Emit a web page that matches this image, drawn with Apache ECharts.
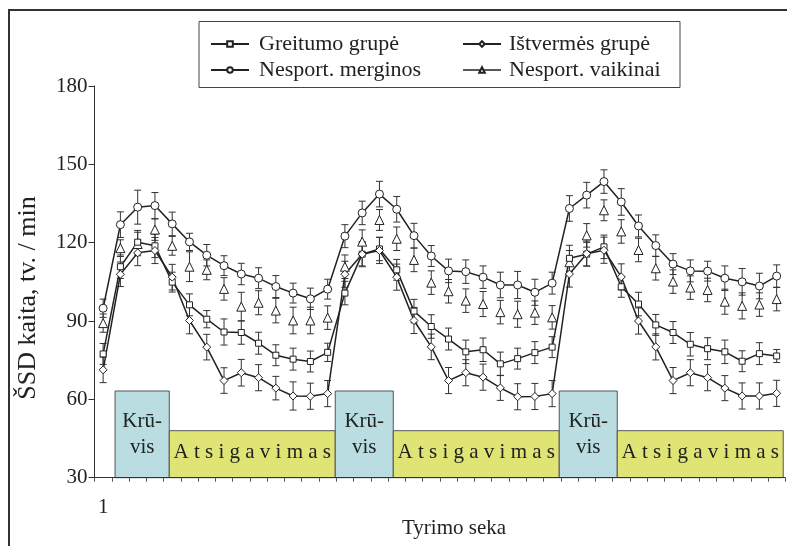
<!DOCTYPE html>
<html>
<head>
<meta charset="utf-8">
<script src="https://cdn.jsdelivr.net/npm/echarts@6/dist/echarts.min.js"></script>
<style>
html,body{margin:0;padding:0;background:#fff;}
#chart{width:787px;height:546px;}
</style>
</head>
<body>
<div id="chart"></div>
<script>
// ---------- DATA ----------
const categories = ['1','2','3','4','5','6','7','8','9','10','11','12','13','14','15','16','17','18','19','20',
  '21','22','23','24','25','26','27','28','29','30','31','32','33','34','35','36','37','38','39','40'];
const yTicks = [30, 60, 90, 120, 150, 180];

const greitumo = [77.4,110.8,120.2,118.8,104.9,96.2,90.7,85.8,85.6,81.5,76.9,75.4,74.5,78.0,
  100.7,115.6,117.6,109.6,93.8,87.9,83.1,78.2,79.0,73.6,75.6,77.9,80.0,
  114.0,115.6,118.4,103.1,96.5,88.5,85.6,81.1,79.4,78.2,74.6,77.5,76.6];
const greitumoErr = [4.0,4.5,4.5,4.5,3.8,4.2,3.3,5.0,4.5,4.2,4.0,4.2,4.0,3.5,
  4.5,4.5,4.5,4.0,4.5,4.5,4.2,4.5,4.5,4.5,4.0,4.2,4.0,
  5.0,4.5,4.5,4.0,4.5,4.0,4.2,4.5,4.2,4.5,4.0,4.2,2.5];

const istvermes = [71.3,107.9,116.1,117.0,106.8,90.2,80.0,67.2,70.2,68.3,64.3,61.3,61.2,62.2,
  107.9,115.6,117.0,106.8,90.2,80.1,67.2,70.2,68.5,64.4,61.0,61.1,62.2,
  108.0,115.8,117.1,106.9,90.0,80.1,67.2,70.2,68.3,64.3,61.3,61.3,62.3];
const istvermesErr = [4.9,4.7,4.9,5.0,4.9,5.1,4.9,4.9,5.1,5.0,4.5,5.4,5.0,5.0,
  5.0,4.8,5.0,5.0,5.0,4.9,5.0,5.0,5.0,4.8,5.0,5.0,5.0,
  5.0,4.8,5.0,5.0,5.0,5.0,5.0,5.0,5.0,4.8,5.0,5.0,5.0];

const merginos = [94.9,126.9,133.6,134.2,127.2,120.3,115.2,111.2,108.0,106.4,103.2,100.7,98.5,102.2,
  122.5,131.4,138.6,132.8,122.7,114.9,109.2,108.9,106.8,103.8,103.8,101.0,104.5,
  133.1,138.2,143.4,135.6,126.4,118.9,111.8,109.2,109.1,106.4,105.0,103.4,107.2];
const merginosErr = [3.5,4.9,6.5,5.0,4.5,3.3,4.1,3.8,4.1,4.0,4.2,3.8,4.1,3.8,
  4.4,4.5,4.9,4.9,4.7,4.0,4.5,4.5,4.3,4.9,5.2,5.0,4.2,
  4.9,4.9,4.5,5.1,4.2,4.1,4.0,4.2,3.8,4.7,5.1,4.9,4.3];

const vaikinai = [89.2,117.9,119.5,125.0,118.8,110.8,109.6,102.3,95.5,97.0,94.0,90.2,90.2,91.3,
  110.8,120.4,128.7,121.5,113.4,104.7,101.4,97.8,96.5,93.4,92.6,93.2,91.4,
  112.5,122.8,132.4,124.3,117.2,110.2,105.1,102.8,101.9,97.4,95.8,96.3,98.4];
const vaikinaiErr = [3.5,3.2,4.5,4.1,3.6,5.7,3.8,4.3,5.5,4.6,4.7,5.1,5.1,4.5,
  4.5,4.5,4.0,4.5,4.5,4.5,4.5,4.5,4.8,4.5,5.0,4.5,4.5,
  4.5,4.5,4.0,4.5,4.5,4.5,4.5,4.5,4.5,4.8,5.0,4.5,4.5];

// Phase annotation boxes (in category units 0..40, y value of box top)
const phaseLabels = ['Krū-\nvis','A t s i g a v i m a s','Krū-\nvis','A t s i g a v i m a s','Krū-\nvis','A t s i g a v i m a s'];
const phaseStart  = [1.19, 4.33, 13.94, 17.30, 26.91, 30.27];
const phaseEnd    = [4.33, 13.94, 17.30, 26.91, 30.27, 39.88];
const phaseTop    = [63.2, 48.0, 63.2, 48.0, 63.2, 48.0];
const phaseKind   = ['load','rec','load','rec','load','rec'];

// ---------- CHART ----------
const FONT = '"Liberation Serif", "Times New Roman", "DejaVu Serif", serif';
const INK = '#222';

function errData(vals, errs){
  return vals.map((v,i)=>[i, v - errs[i], v + errs[i]]);
}
function errSeries(name, vals, errs){
  return {
    type:'custom', name: name + ' err', xAxisIndex:0, yAxisIndex:0, z:1,
    silent:true,
    data: errData(vals, errs),
    encode:{x:0, y:[1,2]},
    renderItem:function(params, api){
      const x = api.value(0);
      const lo = api.coord([x, api.value(1)]);
      const hi = api.coord([x, api.value(2)]);
      const w = 3.5;
      const st = {stroke:'#333', lineWidth:1};
      return {type:'group', children:[
        {type:'line', shape:{x1:lo[0],y1:lo[1],x2:hi[0],y2:hi[1]}, style:st},
        {type:'line', shape:{x1:lo[0]-w,y1:lo[1],x2:lo[0]+w,y2:lo[1]}, style:st},
        {type:'line', shape:{x1:hi[0]-w,y1:hi[1],x2:hi[0]+w,y2:hi[1]}, style:st}
      ]};
    }
  };
}
function lineSeries(name, vals, symbol, size, showLine){
  return {
    type:'line', name:name, data:vals, symbol:symbol, symbolSize:size, z:3,
    showAllSymbol:true,
    itemStyle:{color:'#fff', borderColor:INK, borderWidth:1},
    lineStyle:{color:INK, width: showLine ? 1.5 : 0, opacity: showLine ? 1 : 0},
    emphasis:{disabled:true}
  };
}

const phaseData = phaseStart.map((s,i)=>[s, phaseEnd[i], phaseTop[i]]);

const chart = echarts.init(document.getElementById('chart'), null, {renderer:'canvas'});
const option = {
  backgroundColor:'#fff',
  animation:false,
  textStyle:{fontFamily:FONT},
  grid:{left:94.5, right:1.7, top:86, bottom:68.3, containLabel:false},
  xAxis:[{
    type:'category', data:categories, boundaryGap:true,
    axisLine:{show:true, lineStyle:{color:'#333', width:1}},
    axisTick:{show:true, interval:0, length:4, inside:false, lineStyle:{color:'#555'}},
    axisLabel:{interval:function(i){return i===0;}, margin:19, fontSize:21, color:INK, fontFamily:FONT},
    splitLine:{show:false}
  },{
    type:'value', min:0, max:40, show:false
  }],
  yAxis:{
    type:'value', min:yTicks[0], max:yTicks[yTicks.length-1], interval:30,
    axisLine:{show:true, lineStyle:{color:'#333', width:1}},
    axisTick:{show:true, length:6, lineStyle:{color:'#333'}},
    axisLabel:{fontSize:21, color:INK, margin:7, fontFamily:FONT},
    splitLine:{show:false}
  },
  legend:[{
    orient:'vertical', left:205, top:27, itemWidth:38, itemHeight:7, itemGap:2,
    textStyle:{fontSize:22, color:INK, fontFamily:FONT, lineHeight:24, padding:[0,0,0,5]},
    data:['Greitumo grupė','Nesport. merginos'], selectedMode:false
  },{
    orient:'vertical', left:457, top:27, itemWidth:38, itemHeight:7, itemGap:2,
    textStyle:{fontSize:22, color:INK, fontFamily:FONT, lineHeight:24, padding:[0,0,0,3]},
    data:['Ištvermės grupė',{name:'Nesport. vaikinai', lineStyle:{color:INK, width:1.5, opacity:1}}],
    selectedMode:false
  }],
  graphic:[
    {type:'rect', shape:{x:9, y:10, width:800, height:600}, style:{fill:'none', stroke:'#333', lineWidth:2}, silent:true, z:-10},
    {type:'rect', shape:{x:199, y:21.5, width:481, height:66}, style:{fill:'none', stroke:'#444', lineWidth:1}, silent:true, z:-5},
    {type:'text', x:28, y:298, rotation:Math.PI/2, style:{text:'ŠSD kaita, tv. / min', fontSize:26, fontFamily:FONT, fill:INK, textAlign:'center', textVerticalAlign:'middle'}},
    {type:'text', x:454, y:528, style:{text:'Tyrimo seka', fontSize:21, fontFamily:FONT, fill:INK, textAlign:'center', textVerticalAlign:'middle'}}
  ],
  series:[
    {
      type:'custom', name:'phases', xAxisIndex:1, yAxisIndex:0, z:0, silent:true,
      data:phaseData,
      encode:{x:[0,1], y:2},
      renderItem:function(params, api){
        const i = params.dataIndex;
        const p0 = api.coord([api.value(0), api.value(2)]);
        const p1 = api.coord([api.value(1), yTicks[0]]);
        const load = phaseKind[i]==='load';
        return {type:'group', children:[
          {type:'rect', shape:{x:p0[0], y:p0[1], width:p1[0]-p0[0], height:p1[1]-p0[1]},
            style:{fill: load ? '#b9dde1' : '#dfe475', stroke:'#555', lineWidth:1}},
          {type:'text', x:(p0[0]+p1[0])/2, y:(p0[1]+p1[1])/2 + (load ? 0 : -2),
            style:{text:phaseLabels[i], fontSize:21, fontFamily:FONT, fill:INK, textAlign:'center', textVerticalAlign:'middle', lineHeight:26}}
        ]};
      }
    },
    errSeries('Nesport. vaikinai', vaikinai, vaikinaiErr),
    errSeries('Nesport. merginos', merginos, merginosErr),
    errSeries('Greitumo grupė', greitumo, greitumoErr),
    errSeries('Ištvermės grupė', istvermes, istvermesErr),
    lineSeries('Nesport. vaikinai', vaikinai, 'triangle', 9, false),
    lineSeries('Nesport. merginos', merginos, 'circle', 8, true),
    lineSeries('Greitumo grupė', greitumo, 'rect', 6, true),
    lineSeries('Ištvermės grupė', istvermes, 'diamond', 8, true)
  ]
};
chart.setOption(option);
</script>
</body>
</html>
